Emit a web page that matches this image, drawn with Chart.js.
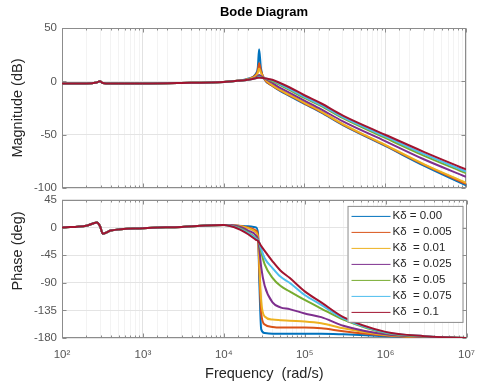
<!DOCTYPE html>
<html>
<head>
<meta charset="utf-8">
<script src="https://cdn.jsdelivr.net/npm/chart.js@4.4.0/dist/chart.umd.min.js"></script>
<style>
  html, body { margin: 0; padding: 0; background: #fff; }
  #wrap { position: relative; width: 478px; height: 383px; overflow: hidden; }
  .box { position: absolute; left: 0; }
  #magBox { top: 0; width: 478px; height: 200px; }
  #phaseBox { top: 188px; width: 485px; height: 195px; }
</style>
</head>
<body>
<div id="wrap">
  <div class="box" id="magBox"><canvas id="magChart"></canvas></div>
  <div class="box" id="phaseBox"><canvas id="phaseChart"></canvas></div>
</div>
<script>
// frequency points, rad/s
const freq = [100, 200, 270, 295, 320, 400, 1000, 3000, 10000, 15000, 20000, 25000, 26500, 27500, 29000, 32000, 40000, 50000, 65000, 100000, 160000, 300000, 1000000, 3000000, 10000000];

const gainLabels = ['Kδ = 0.00', 'Kδ  = 0.005', 'Kδ  = 0.01', 'Kδ  = 0.025', 'Kδ  = 0.05', 'Kδ  = 0.075', 'Kδ  = 0.1'];

// magnitude (dB)
const mag000 = [-2, -2, -1, 0, -1.5, -2, -2, -1.5, -0.5, 0.5, 2.5, 7, 13, 30, 12, 2, -4, -9, -13.5, -21, -29, -41, -60.5, -79, -97.5];
const mag005 = [-2, -2, -1, 0, -1.5, -2, -2, -1.5, -0.5, 0.5, 2, 6, 10, 17, 10, 2, -4, -8.5, -13, -20.5, -28.5, -40.5, -60, -78, -96];
const mag010 = [-2, -2, -1, 0, -1.5, -2, -2, -1.5, -0.5, 0.5, 2, 5, 8, 12, 8, 2.5, -3.5, -8, -12.5, -20, -28, -40, -59.5, -77.5, -95];
const mag025 = [-2, -2, -1, 0, -1.5, -2, -2, -1.5, -0.5, 0.5, 1.5, 3.5, 5, 6, 5, 3, -1.5, -6, -10.5, -18, -26, -37.5, -56, -73, -89.5];
const mag050 = [-2, -2, -1, 0, -1.5, -2, -2, -1.5, -0.5, 0.5, 1.5, 3, 4, 4.5, 4, 3, 0, -3.5, -8, -15.5, -23, -34.5, -53, -69.5, -86];
const mag075 = [-2, -2, -1, 0, -1.5, -2, -2, -1.5, -0.5, 0.5, 1.5, 3, 3.5, 4, 3.5, 3, 1, -2.5, -7, -14.5, -22, -33.5, -51.5, -68, -84.5];
const mag100 = [-2, -2, -1, 0, -1.5, -2, -2, -1.5, -0.5, 0.5, 1.5, 3, 3.5, 3.5, 3.5, 3, 1.5, -1.5, -5.5, -13, -20.5, -32, -50, -66, -82.5];

// phase (deg)
const ph000 = [0, 3, 8, 2, -10, -5, -1, 1, 4, 3, 2, 0, -10, -90, -166, -172, -173, -173, -173, -173, -173, -174, -177, -179, -180];
const ph005 = [0, 3, 8, 2, -10, -5, -1, 1, 4, 3, 0, -5, -14, -70, -140, -158, -162, -163, -163, -163, -164, -169, -176, -179, -180];
const ph010 = [0, 3, 8, 2, -10, -5, -1, 1, 4, 3, -1, -8, -17, -60, -120, -145, -150, -151, -152, -153, -156, -164, -175, -178.5, -180];
const ph025 = [0, 3, 8, 2, -10, -5, -1, 1, 4, 2, -5, -13, -20, -35, -65, -95, -122, -130, -133, -140, -146, -160, -174, -178, -180];
const ph050 = [0, 3, 8, 2, -10, -5, -1, 1, 4, 0, -8, -17, -21, -26, -40, -60, -82, -95, -104, -118, -132, -150, -172, -177.5, -180];
const ph075 = [0, 3, 8, 2, -10, -5, -1, 1, 4, -1, -9, -18, -21, -25, -35, -50, -66, -80, -90, -110, -126, -148, -171, -177, -180];
const ph100 = [0, 3, 8, 2, -10, -5, -1, 1, 4, -2, -11, -20, -22, -25, -30, -38, -55, -70, -82, -104, -122, -146, -170, -177, -180];

const magSeries = [mag000, mag005, mag010, mag025, mag050, mag075, mag100];
const phaseSeries = [ph000, ph005, ph010, ph025, ph050, ph075, ph100];

const xTickValues = [1e2, 1e3, 1e4, 1e5, 1e6, 1e7];
const xTickLabels = ['10²', '10³', '10⁴', '10⁵', '10⁶', '10⁷'];

// MATLAB default line colours
const colors = ['#0072BD', '#D95319', '#EDB120', '#7E2F8E', '#77AC30', '#4DBEEE', '#A2142F'];

const FONT = 'Liberation Sans, Arial, Helvetica, sans-serif';

function buildDatasets(series) {
    return series.map((vals, i) => ({
        label: gainLabels[i],
        data: freq.map((f, j) => ({ x: f, y: vals[j] })),
        borderColor: colors[i],
        backgroundColor: colors[i],
        borderWidth: 2,
        pointRadius: 0,
        fill: false,
        cubicInterpolationMode: 'monotone',
        order: series.length - i   // last one drawn on top, like MATLAB
    }));
}

function isDecade(v) {
    const l = Math.log10(v);
    return Math.abs(l - Math.round(l)) < 1e-9;
}

// box round the axes, with small inward tick marks like MATLAB
const framePlugin = {
    id: 'frame',
    beforeDatasetsDraw(chart) {
        const { ctx, chartArea: a, scales } = chart;
        const L = Math.round(a.left) + 0.5, T = Math.round(a.top) + 0.5;
        const R = Math.round(a.right) - 0.5, B = Math.round(a.bottom) - 0.5;
        ctx.save();
        ctx.strokeStyle = '#8c8c8c';
        ctx.lineWidth = 1;
        ctx.strokeRect(L, T, R - L, B - T);
        ctx.beginPath();
        scales.x.ticks.forEach(t => {
            const px = Math.round(scales.x.getPixelForValue(t.value)) + 0.5;
            const len = isDecade(t.value) ? 4 : 2;
            ctx.moveTo(px, B); ctx.lineTo(px, B - len);
            ctx.moveTo(px, T); ctx.lineTo(px, T + len);
        });
        scales.y.ticks.forEach(t => {
            const py = Math.round(scales.y.getPixelForValue(t.value)) + 0.5;
            ctx.moveTo(L, py); ctx.lineTo(L + 4, py);
            ctx.moveTo(R, py); ctx.lineTo(R - 4, py);
        });
        ctx.stroke();
        ctx.restore();
    }
};

// legend inside the phase axes, top right
const insideLegend = {
    id: 'insideLegend',
    afterDraw(chart) {
        const { ctx, chartArea: a } = chart;
        const w = 115, h = 116;
        const x0 = a.right - 4 - w, y0 = a.top + 6;
        ctx.save();
        ctx.fillStyle = '#fff';
        ctx.fillRect(x0, y0, w, h);
        ctx.strokeStyle = '#8c8c8c';
        ctx.lineWidth = 1;
        ctx.strokeRect(x0 + 0.5, y0 + 0.5, w, h);
        ctx.font = '11.5px ' + FONT;
        ctx.textBaseline = 'middle';
        chart.data.datasets.forEach((ds, i) => {
            const y = y0 + 10 + i * 16;
            ctx.strokeStyle = ds.borderColor;
            ctx.lineWidth = 1;
            ctx.beginPath();
            ctx.moveTo(x0 + 4, y + 0.5);
            ctx.lineTo(x0 + 43, y + 0.5);
            ctx.stroke();
            ctx.fillStyle = '#262626';
            ctx.fillText(ds.label, x0 + 45, y);
        });
        ctx.restore();
    }
};

// the phase label sits a little above the middle of its axes in the original
const phaseLabel = {
    id: 'phaseLabel',
    afterDraw(chart) {
        const { ctx, chartArea: a } = chart;
        ctx.save();
        ctx.translate(17.7, (a.top + a.bottom) / 2 - 18);
        ctx.rotate(-Math.PI / 2);
        ctx.font = '14.5px ' + FONT;
        ctx.fillStyle = '#262626';
        ctx.textAlign = 'center';
        ctx.textBaseline = 'middle';
        ctx.fillText('Phase (deg)', 0, 0);
        ctx.restore();
    }
};

function xScale(showTicks) {
    return {
        type: 'logarithmic',
        min: 1e2,
        max: 1e7,
        grid: {
            drawTicks: false,
            color: (c) => (c.tick && isDecade(c.tick.value)) ? '#e2e2e2' : '#f3f3f3'
        },
        border: { display: false },
        ticks: {
            display: showTicks,
            autoSkip: false,
            maxRotation: 0,
            padding: 10,
            color: '#555',
            font: { family: FONT, size: 11.5 },
            callback: (v) => {
                const k = xTickValues.findIndex(t => Math.abs(t - v) < 1e-6 * t);
                return k >= 0 ? xTickLabels[k] : '';
            }
        },
        title: {
            display: showTicks,
            text: 'Frequency  (rad/s)',
            color: '#262626',
            font: { family: FONT, size: 14.5 },
            padding: { top: 0, bottom: 0 }
        },
        afterFit: (s) => { s.height = showTicks ? 45 : 5; }
    };
}

function yScale(min, max, step, label) {
    return {
        min: min,
        max: max,
        grid: { drawTicks: false, color: '#e4e4e4' },
        border: { display: false },
        ticks: {
            stepSize: step,
            padding: 5,
            color: '#555',
            font: { family: FONT, size: 11.5 }
        },
        title: {
            display: label !== '',
            text: label,
            color: '#262626',
            font: { family: FONT, size: 14.5 },
            padding: { top: 9, bottom: 0 }
        },
        afterFit: (s) => { s.width = 62; }
    };
}

const commonOpts = {
    responsive: true,
    maintainAspectRatio: false,
    animation: false,
    events: [],
    plugins: { legend: { display: false }, tooltip: { enabled: false } }
};

new Chart(document.getElementById('magChart'), {
    type: 'line',
    data: { datasets: buildDatasets(magSeries) },
    options: {
        ...commonOpts,
        layout: { padding: { left: 0, right: 12, top: 0, bottom: 0 } },
        plugins: {
            ...commonOpts.plugins,
            title: {
                display: true,
                fullSize: false,
                text: 'Bode Diagram',
                color: '#000',
                font: { family: FONT, size: 13, weight: 'bold' },
                padding: { top: 5, bottom: 7.4 }
            }
        },
        scales: {
            x: xScale(false),
            y: yScale(-100, 50, 50, 'Magnitude (dB)')
        }
    },
    plugins: [framePlugin]
});

// phase canvas is a bit wider than the page so that its plot edge lines up at x = 466
new Chart(document.getElementById('phaseChart'), {
    type: 'line',
    data: { datasets: buildDatasets(phaseSeries) },
    options: {
        ...commonOpts,
        layout: { padding: { left: 0, right: 0, top: 7, bottom: 0 } },
        scales: {
            x: xScale(true),
            y: yScale(-180, 45, 45, '')
        }
    },
    plugins: [framePlugin, insideLegend, phaseLabel]
});
</script>
</body>
</html>
